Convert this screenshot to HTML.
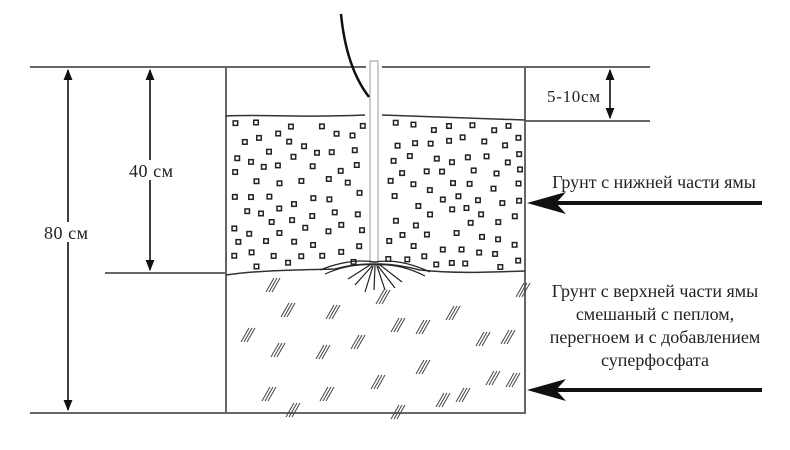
<!DOCTYPE html>
<html><head><meta charset="utf-8"><style>
html,body{margin:0;padding:0;background:#fff;width:790px;height:450px;overflow:hidden}
text{font-family:"Liberation Serif","DejaVu Serif",serif;fill:#222}
</style></head><body>
<svg id="s" width="790" height="450" xmlns="http://www.w3.org/2000/svg">
<defs>
<marker id="ah" viewBox="0 0 10 10" refX="9" refY="5" markerWidth="7" markerHeight="7" orient="auto-start-reverse"><path d="M0,1 L10,5 L0,9 Z" fill="#111"/></marker>
</defs>
<g stroke="#666" stroke-width="2" fill="none">
<line x1="30" y1="67" x2="366" y2="67"/>
<line x1="382" y1="67" x2="650" y2="67"/>
<line x1="105" y1="273" x2="226" y2="273"/>
<line x1="30" y1="413" x2="526" y2="413"/>
<line x1="226" y1="67" x2="226" y2="413"/>
<line x1="525" y1="67" x2="525" y2="413"/>
<line x1="525" y1="121" x2="650" y2="121"/>
</g>
<g stroke="#333" stroke-width="1.5" fill="none">
<path d="M226,116 C260,114 300,118 365,115"/>
<path d="M382,115 C420,116 460,118 525,120"/>
<path d="M226,275 C260,270 300,270 335,269 C360,262 390,262 420,270 C460,274 490,272 525,271"/>
</g>
<g stroke="#111" stroke-width="1.6" fill="none" marker-start="url(#ah)" marker-end="url(#ah)">
<line x1="68" y1="70" x2="68" y2="410"/>
<line x1="150" y1="70" x2="150" y2="270"/>
<line x1="610" y1="70" x2="610" y2="118"/>
</g>
<rect x="44" y="222" width="46" height="20" fill="#fff"/>
<rect x="128" y="160" width="48" height="20" fill="#fff"/>
<text x="44" y="239" font-size="18" textLength="44">80 см</text>
<text x="129" y="177" font-size="18" textLength="44">40 см</text>
<text x="547" y="102" font-size="17" textLength="53">5-10см</text>
<g stroke="#111" stroke-width="4" fill="none">
<line x1="545" y1="203" x2="762" y2="203"/>
<line x1="545" y1="390" x2="762" y2="390"/>
</g>
<path d="M527,203 L566,192 L556,203 L566,214 Z" fill="#111"/>
<path d="M527,390 L566,379 L556,390 L566,401 Z" fill="#111"/>
<g font-size="18" text-anchor="middle">
<text x="654" y="188">Грунт с нижней части ямы</text>
<text x="655" y="297">Грунт с верхней части ямы</text>
<text x="655" y="320">смешаный с пеплом,</text>
<text x="655" y="343">перегноем и с добавлением</text>
<text x="655" y="366">суперфосфата</text>
</g>
<g id="dots" fill="none" stroke="#222" stroke-width="1.5"></g>
<g id="hatch" stroke="#444" stroke-width="1"></g>
<rect x="370" y="61" width="8" height="202" fill="#fff" stroke="#999" stroke-width="1"/>
<path d="M341,14 C344,45 352,75 369,97" stroke="#111" stroke-width="2.5" fill="none"/>
<g stroke="#222" stroke-width="1.2" fill="none">
<path d="M320,270 Q350,258 375,262 Q400,258 430,272"/>
<path d="M325,274 Q350,263 375,265 Q400,263 425,276"/>
<line x1="372" y1="266" x2="355" y2="285"/><line x1="373" y1="266" x2="365" y2="292"/>
<line x1="375" y1="266" x2="374" y2="290"/><line x1="377" y1="266" x2="385" y2="290"/>
<line x1="378" y1="266" x2="395" y2="288"/><line x1="370" y1="265" x2="348" y2="279"/>
<line x1="380" y1="265" x2="402" y2="282"/>
</g>
</svg>
<script>
var s="http://www.w3.org/2000/svg",seed=7;
function r(){seed=(seed*16807)%2147483647;return seed/2147483647;}
var d=document.getElementById("dots");
for(var i=0;i<1500&&d.childNodes.length<170;i++){
 var x=232+r()*286,y=120+r()*145;
 if(x>362&&x<385)continue;
 var ok=true;for(var j=0;j<d.childNodes.length;j++){var c=d.childNodes[j];var dx=c._x-x,dy=c._y-y;if(dx*dx+dy*dy<180){ok=false;break;}}
 if(!ok)continue;
 var e=document.createElementNS(s,"rect");e.setAttribute("x",x);e.setAttribute("y",y);e.setAttribute("width",4.5);e.setAttribute("height",4.5);e._x=x;e._y=y;d.appendChild(e);
}
var h=document.getElementById("hatch"),pts=[[270,285],[285,310],[330,312],[380,297],[395,325],[520,290],[245,335],[275,350],[320,352],[355,342],[420,327],[450,313],[480,339],[505,337],[266,394],[324,394],[375,382],[420,367],[460,395],[490,378],[395,412],[510,380],[290,410],[440,400]];
pts.forEach(function(p){for(var k=0;k<3;k++){var l=document.createElementNS(s,"line");var ox=k*3;l.setAttribute("x1",p[0]-4+ox);l.setAttribute("y1",p[1]+7);l.setAttribute("x2",p[0]+4+ox);l.setAttribute("y2",p[1]-7);h.appendChild(l);}});
</script>
</body></html>
